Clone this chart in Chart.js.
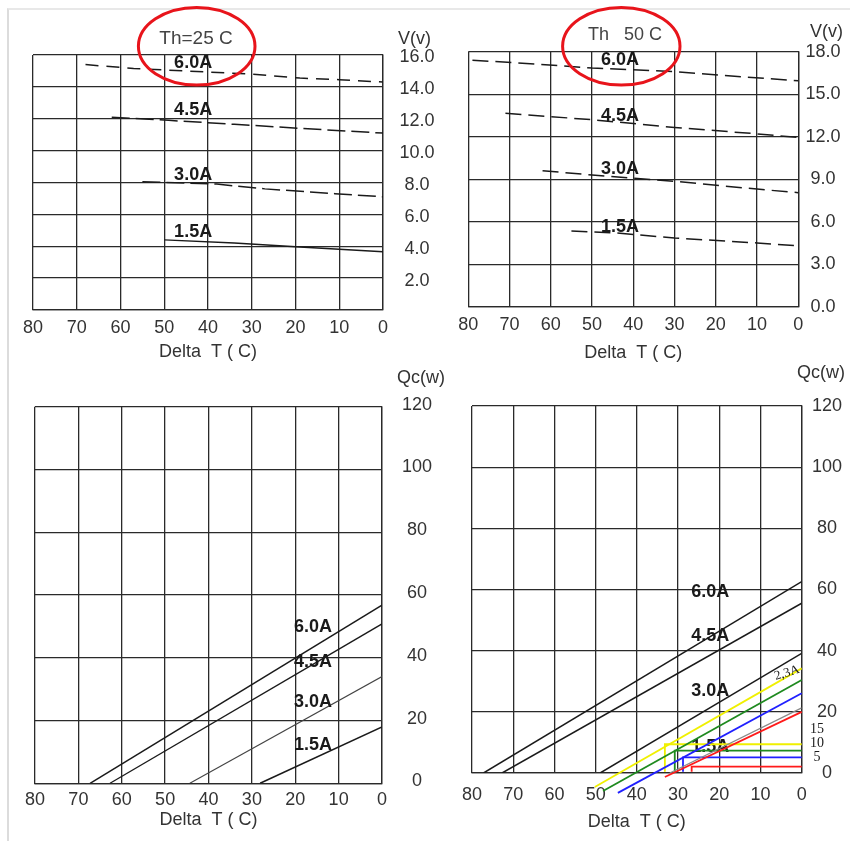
<!DOCTYPE html>
<html><head><meta charset="utf-8">
<script src="https://cdn.jsdelivr.net/npm/chart.js@4"></script>
<style>
html,body{margin:0;padding:0;background:#fff;}
body{width:850px;height:841px;position:relative;overflow:hidden;}
.frame{position:absolute;left:7px;top:8px;width:860px;height:850px;border-left:2px solid #dcdcdc;border-top:2px solid #e8e8e8;}
canvas{position:absolute;}
</style></head><body>
<div class="frame"></div>
<canvas id="tl" width="445" height="370" style="left:0;top:0"></canvas>
<canvas id="tr" width="405" height="370" style="left:445px;top:0"></canvas>
<canvas id="bl" width="445" height="486" style="left:0;top:355px"></canvas>
<canvas id="br" width="405" height="486" style="left:445px;top:355px"></canvas>
<script>
// ---------- axis ticks ----------
const xTickValues = [0, 10, 20, 30, 40, 50, 60, 70, 80];
const xTickLabels = ['0', '10', '20', '30', '40', '50', '60', '70', '80'];
const tlYTickValues = [0, 2, 4, 6, 8, 10, 12, 14, 16];
const tlYTickLabels = ['', '2.0', '4.0', '6.0', '8.0', '10.0', '12.0', '14.0', '16.0'];
const trYTickValues = [0, 3, 6, 9, 12, 15, 18];
const trYTickLabels = ['0.0', '3.0', '6.0', '9.0', '12.0', '15.0', '18.0'];
const qcTickValues = [0, 20, 40, 60, 80, 100, 120];
const qcTickLabels = ['0', '20', '40', '60', '80', '100', '120'];
const currentLabels = ['6.0A', '4.5A', '3.0A', '1.5A'];
const xTitle = 'Delta  T ( C)';

// ---------- Top-left: V vs Delta T, Th = 25 C ----------
const tl60dT = [68, 57, 45, 30, 19, 10, 0];
const tl60V  = [15.4, 15.15, 15.0, 14.8, 14.55, 14.45, 14.3];
const tl45dT = [62, 49, 34, 19, 0];
const tl45V  = [12.1, 11.9, 11.65, 11.4, 11.1];
const tl30dT = [55, 38, 27, 11, 0];
const tl30V  = [8.05, 7.9, 7.6, 7.3, 7.1];
const tl15dT = [50, 34, 19, 0];
const tl15V  = [4.4, 4.2, 3.95, 3.65];

// ---------- Top-right: V vs Delta T, Th = 50 C ----------
const tr60dT = [79, 65, 50, 30, 17, 0];
const tr60V  = [17.4, 17.15, 16.85, 16.6, 16.3, 15.95];
const tr45dT = [71, 50, 30, 10, 0];
const tr45V  = [13.65, 13.2, 12.65, 12.2, 11.95];
const tr30dT = [62, 50, 30, 10, 0];
const tr30V  = [9.6, 9.3, 8.85, 8.3, 8.05];
const tr15dT = [55, 44, 30, 10, 0];
const tr15V  = [5.35, 5.2, 4.85, 4.5, 4.3];

// ---------- Bottom-left: Qc vs Delta T, Th = 25 C ----------
const bl60dT = [67.3, 0];  const bl60Q = [0, 56.8];
const bl45dT = [62.7, 0];  const bl45Q = [0, 50.8];
const bl30dT = [44.3, 0];  const bl30Q = [0, 34.0];
const bl15dT = [28.1, 0];  const bl15Q = [0, 18.0];

// ---------- Bottom-right: Qc vs Delta T, Th = 50 C ----------
const br60dT = [77.2, 0];  const br60Q = [0, 62.6];
const br45dT = [72.7, 0];  const br45Q = [0, 55.5];
const br30dT = [48.9, 0];  const br30Q = [0, 39.1];
const br15dT = [32, 0];    const br15Q = [0, 21.3];
// added colour lines
const yelDiagDT = [50.2, 0]; const yelDiagQ = [-4.6, 34.2];
const grnDiagDT = [48.2, 0]; const grnDiagQ = [-5.9, 30.4];
const bluDiagDT = [44.6, 0]; const bluDiagQ = [-6.5, 26.1];
const redDiagDT = [33.2, 0]; const redDiagQ = [-1.3, 20.0];
const yelStepDT = [33.2, 33.2, 0]; const yelStepQ = [0.4, 9.4, 9.4];
const grnStepDT = [30.8, 30.8, 0]; const grnStepQ = [0.4, 7.3, 7.3];
const bluStepDT = [28.8, 28.8, 0]; const bluStepQ = [0.4, 5.1, 5.1];
const redStepDT = [26.7, 26.7, 0]; const redStepQ = [0.4, 2.1, 2.1];
const brSideLabels = ['15', '10', '5'];
const brSideValues = [14.4, 9.8, 5.2];
const brCurrent23 = '2,3A';

// ---------- helpers ----------
const pts = (xs, ys) => xs.map((x, i) => ({x: x, y: ys[i]}));
const FONT = "'Liberation Sans', Arial, sans-serif";
const SERIF = "'Liberation Serif', 'Times New Roman', serif";
const INK = '#1a1a1a';
const GRID = '#2a2a2a';

function notes(items) {
  function drawItems(chart, under) {
    const ctx = chart.ctx, xs = chart.scales.x, ys = chart.scales.y;
    items.forEach(it => {
      if (!!it.under !== under) return;
      ctx.save();
      let px = it.px, py = it.py;
      if (it.dx !== undefined) { px = xs.getPixelForValue(it.dx); py = ys.getPixelForValue(it.dy); }
      if (it.kind === 'ellipse') {
        ctx.beginPath();
        ctx.ellipse(px, py, it.rx, it.ry, 0, 0, Math.PI * 2);
        ctx.strokeStyle = it.color; ctx.lineWidth = it.width; ctx.stroke();
      } else {
        ctx.font = it.font; ctx.fillStyle = it.color || INK;
        ctx.textAlign = it.align || 'center'; ctx.textBaseline = 'middle';
        ctx.translate(px, py); if (it.rot) ctx.rotate(it.rot);
        ctx.fillText(it.text, 0, 0);
      }
      ctx.restore();
    });
  }
  return {
    id: 'notes',
    beforeDatasetsDraw(chart) { drawItems(chart, true); },
    afterDatasetsDraw(chart) { drawItems(chart, false); }
  };
}

function lineDs(data, opt) {
  return Object.assign({data: data, borderColor: INK, borderWidth: 1.5, pointRadius: 0, fill: false, tension: 0}, opt || {});
}

function makeChart(id, cfg) {
  const labelOf = (vals, labs) => (v) => { const i = vals.indexOf(v); return i < 0 ? '' : labs[i]; };
  return new Chart(document.getElementById(id), {
    type: 'line',
    data: {datasets: cfg.datasets},
    options: {
      responsive: false, animation: false, devicePixelRatio: 1,
      layout: {padding: cfg.pad},
      plugins: {legend: {display: false}, tooltip: {enabled: false}},
      scales: {
        x: {
          type: 'linear', reverse: true, min: 0, max: 80,
          ticks: {stepSize: 10, padding: cfg.xPad, autoSkip: false, maxRotation: 0,
                  color: '#333', font: {family: FONT, size: 18},
                  callback: labelOf(xTickValues, xTickLabels)},
          grid: {color: GRID, lineWidth: 1.3, drawTicks: false},
          border: {display: true, color: GRID, width: 1.3},
          title: {display: true, text: xTitle, color: '#333', font: {family: FONT, size: 18}, padding: 0},
          afterFit: s => { s.height = cfg.xH; }
        },
        y: {
          type: 'linear', position: 'right', min: cfg.yMin, max: cfg.yMax,
          ticks: {stepSize: cfg.yStep, padding: cfg.yPad, crossAlign: 'center', autoSkip: false,
                  labelOffset: cfg.yOff || 0,
                  color: '#333', font: {family: FONT, size: 18},
                  callback: labelOf(cfg.yVals, cfg.yLabs)},
          grid: {color: GRID, lineWidth: 1.3, drawTicks: false},
          border: {display: true, color: GRID, width: 1.3},
          afterFit: s => { s.width = cfg.yW; }
        }
      }
    },
    plugins: [notes(cfg.notes)]
  });
}

const labelFont = 'bold 18px ' + FONT;

// Top-left
makeChart('tl', {
  pad: {left: 33, top: 55, right: 0, bottom: 7.2}, xH: 52.8, yW: 62, xPad: 7, yPad: 16.5, yOff: 2.5,
  yMin: 0, yMax: 16, yStep: 2, yVals: tlYTickValues, yLabs: tlYTickLabels,
  datasets: [
    lineDs(pts(tl60dT, tl60V), {borderDash: [13, 8]}),
    lineDs(pts(tl45dT, tl45V), {borderDash: [18, 6]}),
    lineDs(pts(tl30dT, tl30V), {borderDash: [18, 6]}),
    lineDs(pts(tl15dT, tl15V))
  ],
  notes: [
    {kind: 'ellipse', px: 196.7, py: 46.2, rx: 58.3, ry: 38.8, color: '#e8141b', width: 3},
    {text: 'Th=25 C', px: 196, py: 39, font: '19px ' + FONT, color: '#444'},
    {text: 'V(v)', px: 398, py: 39, font: '18px ' + FONT, color: '#333', align: 'left'},
    {text: currentLabels[0], dx: 43.4, dy: 15.5, font: labelFont},
    {text: currentLabels[1], dx: 43.4, dy: 12.55, font: labelFont},
    {text: currentLabels[2], dx: 43.4, dy: 8.5, font: labelFont},
    {text: currentLabels[3], dx: 43.4, dy: 4.9, font: labelFont}
  ]
});

// Top-right
makeChart('tr', {
  pad: {left: 23.3, top: 51.7, right: 0, bottom: 6.2}, xH: 57.1, yW: 51.7, xPad: 7.5, yPad: 7.2,
  yMin: 0, yMax: 18, yStep: 3, yVals: trYTickValues, yLabs: trYTickLabels,
  datasets: [
    lineDs(pts(tr60dT, tr60V), {borderDash: [16, 7]}),
    lineDs(pts(tr45dT, tr45V), {borderDash: [16, 7]}),
    lineDs(pts(tr30dT, tr30V), {borderDash: [16, 7]}),
    lineDs(pts(tr15dT, tr15V), {borderDash: [16, 7]})
  ],
  notes: [
    {kind: 'ellipse', px: 176.3, py: 46.2, rx: 58.7, ry: 38.8, color: '#e8141b', width: 3},
    {text: 'Th   50 C', px: 180, py: 35, font: '18px ' + FONT, color: '#444'},
    {text: 'V(v)', px: 365, py: 32, font: '18px ' + FONT, color: '#333', align: 'left'},
    {text: currentLabels[0], dx: 43.2, dy: 17.4, font: labelFont},
    {text: currentLabels[1], dx: 43.2, dy: 13.46, font: labelFont},
    {text: currentLabels[2], dx: 43.2, dy: 9.72, font: labelFont},
    {text: currentLabels[3], dx: 43.2, dy: 5.63, font: labelFont}
  ]
});

// Bottom-left
makeChart('bl', {
  pad: {left: 35, top: 51.7, right: 0, bottom: 10.2}, xH: 47.5, yW: 63, xPad: 6, yPad: 20, yOff: -2,
  yMin: 0, yMax: 120, yStep: 20, yVals: qcTickValues, yLabs: qcTickLabels,
  datasets: [
    lineDs(pts(bl60dT, bl60Q)),
    lineDs(pts(bl45dT, bl45Q), {borderWidth: 1.3}),
    lineDs(pts(bl30dT, bl30Q), {borderWidth: 1.1, borderColor: '#444'}),
    lineDs(pts(bl15dT, bl15Q))
  ],
  notes: [
    {text: 'Qc(w)', px: 397, py: 23, font: '18px ' + FONT, color: '#333', align: 'left'},
    {text: currentLabels[0], dx: 15.9, dy: 49.7, font: labelFont},
    {text: currentLabels[1], dx: 15.9, dy: 38.6, font: labelFont},
    {text: currentLabels[2], dx: 15.9, dy: 26.0, font: labelFont},
    {text: currentLabels[3], dx: 15.9, dy: 12.2, font: labelFont}
  ]
});

// Bottom-right
const noClip = {clip: false, borderWidth: 1.8};
makeChart('br', {
  pad: {left: 27, top: 51, right: 0, bottom: 8.2}, xH: 59.8, yW: 48.3, xPad: 11, yPad: 10.3,
  yMin: 0, yMax: 120, yStep: 20, yVals: qcTickValues, yLabs: qcTickLabels,
  datasets: [
    lineDs(pts(br60dT, br60Q)),
    lineDs(pts(br45dT, br45Q)),
    lineDs(pts(br30dT, br30Q)),
    lineDs(pts(br15dT, br15Q), {borderColor: '#8a8a8a', borderWidth: 1.2}),
    lineDs(pts(yelDiagDT, yelDiagQ), Object.assign({borderColor: '#f0f000'}, noClip)),
    lineDs(pts(grnDiagDT, grnDiagQ), Object.assign({borderColor: '#1f8a1f'}, noClip)),
    lineDs(pts(bluDiagDT, bluDiagQ), Object.assign({borderColor: '#2020ff'}, noClip)),
    lineDs(pts(redDiagDT, redDiagQ), Object.assign({borderColor: '#ff1a1a'}, noClip)),
    lineDs(pts(yelStepDT, yelStepQ), Object.assign({borderColor: '#f0f000'}, noClip)),
    lineDs(pts(grnStepDT, grnStepQ), Object.assign({borderColor: '#1f8a1f'}, noClip)),
    lineDs(pts(bluStepDT, bluStepQ), Object.assign({borderColor: '#2020ff'}, noClip)),
    lineDs(pts(redStepDT, redStepQ), Object.assign({borderColor: '#ff1a1a'}, noClip))
  ],
  notes: [
    {text: 'Qc(w)', px: 352, py: 18, font: '18px ' + FONT, color: '#333', align: 'left'},
    {text: currentLabels[0], dx: 22.2, dy: 59.2, font: labelFont},
    {text: currentLabels[1], dx: 22.2, dy: 44.8, font: labelFont},
    {text: currentLabels[2], dx: 22.2, dy: 26.8, font: labelFont},
    {text: currentLabels[3], dx: 22.2, dy: 8.5, font: labelFont, under: true},
    {text: brCurrent23, dx: 3.6, dy: 32.7, font: '13px ' + SERIF, rot: -0.3},
    {text: brSideLabels[0], dx: -3.7, dy: brSideValues[0], font: '14px ' + SERIF},
    {text: brSideLabels[1], dx: -3.7, dy: brSideValues[1], font: '14px ' + SERIF},
    {text: brSideLabels[2], dx: -3.7, dy: brSideValues[2], font: '14px ' + SERIF}
  ]
});
</script>
</body></html>
